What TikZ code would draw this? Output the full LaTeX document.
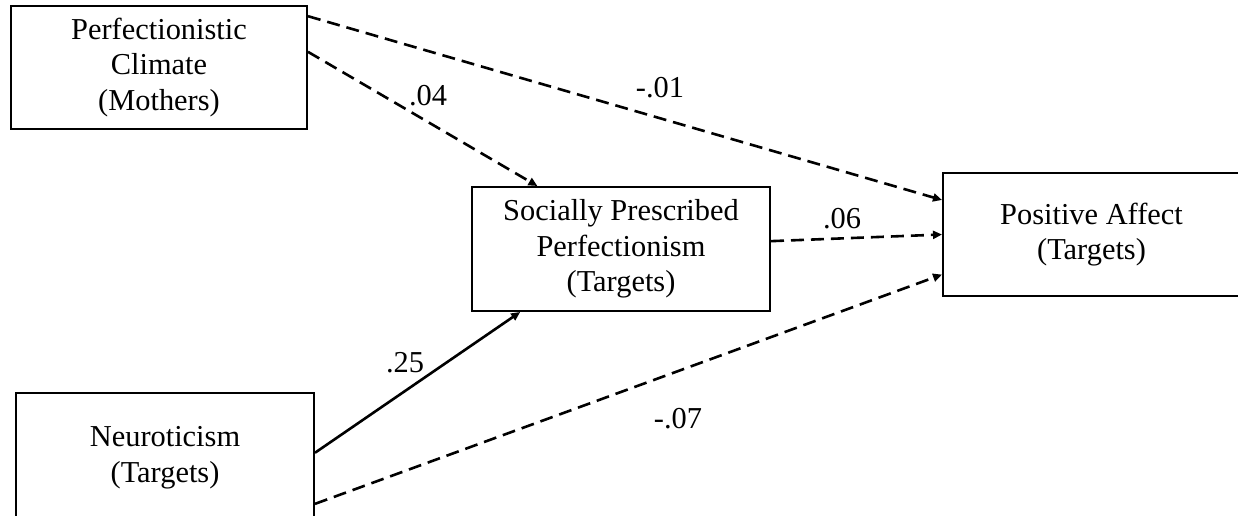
\documentclass[tikz,border=0pt]{standalone}
\usepackage{fontspec}
\setmainfont{Liberation Serif}
\usetikzlibrary{arrows.meta}
\tikzset{
  varbox/.style={draw,rectangle,line width=1pt,align=center,font=\fontsize{15.2}{17.8}\selectfont},
  coef/.style={font=\fontsize{15.2}{17.8}\selectfont,inner sep=0pt},
  arr/.style={-{Triangle[length=4.5pt,width=4pt]},line width=1.3pt},
  dsh/.style={arr,dash pattern=on 6.5pt off 3.5pt}
}

\begin{document}
\begin{tikzpicture}[x=0.5pt,y=-0.5pt]
  \useasboundingbox (0,0) rectangle (1238,515);

  \node[varbox, minimum width=148pt, minimum height=61.5pt] (clim) at (159,67.5) {Perfectionistic\\Climate\\(Mothers)};
  \node[varbox, minimum width=149pt, minimum height=62pt] (spp) at (621,249) {Socially Prescribed\\Perfectionism\\(Targets)};
  \node[varbox, minimum width=148.5pt, minimum height=61.5pt] (posaff) at (1091.5,234.5) {Positive Affect\\(Targets)};
  \node[varbox, minimum width=149pt, minimum height=65pt] (neuro) at (165,458) {Neuroticism\\(Targets)};

  \draw[dsh] (clim.19.5) -- (posaff.167.7);
  \draw[dsh] (clim.6.7) -- (spp.143.2);
  \draw[dsh] (spp.3.8) -- (posaff.180);
  \draw[arr] (neuro.2.7) -- (spp.212.1);
  \draw[dsh] (neuro.343.5) -- (posaff.195.6);

  \node[coef] (c1) at (660,88) {-.01};
  \node[coef] (c2) at (428,96) {.04};
  \node[coef] (c3) at (842,219) {.06};
  \node[coef] (c4) at (405,363) {.25};
  \node[coef] (c5) at (678,419) {-.07};
\end{tikzpicture}
\end{document}
